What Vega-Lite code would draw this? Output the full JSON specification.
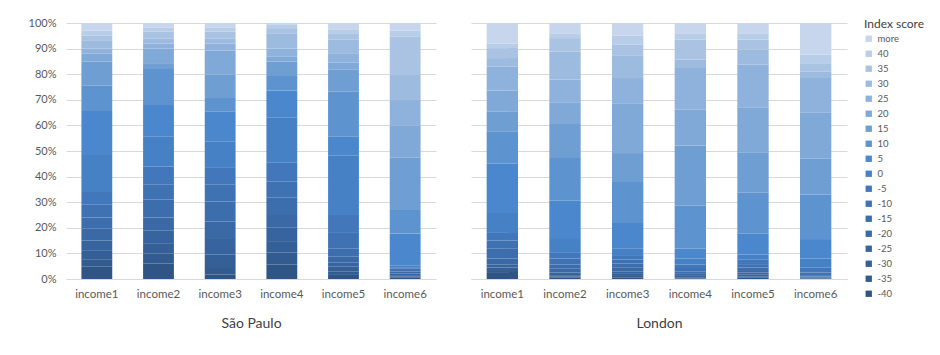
{
  "$schema": "https://vega.github.io/schema/vega-lite/v6.json",
  "padding": {"left": 28, "top": 17, "right": 5, "bottom": 5},
  "background": "white",
  "datasets": {
    "scores": [
      {"city":"São Paulo","income":"income1","score":"-40","rank":0,"pct":4.8},
      {"city":"São Paulo","income":"income1","score":"-35","rank":1,"pct":2.7},
      {"city":"São Paulo","income":"income1","score":"-30","rank":2,"pct":3.5},
      {"city":"São Paulo","income":"income1","score":"-25","rank":3,"pct":4},
      {"city":"São Paulo","income":"income1","score":"-20","rank":4,"pct":4.7},
      {"city":"São Paulo","income":"income1","score":"-15","rank":5,"pct":4.3},
      {"city":"São Paulo","income":"income1","score":"-10","rank":6,"pct":5},
      {"city":"São Paulo","income":"income1","score":"-5","rank":7,"pct":5},
      {"city":"São Paulo","income":"income1","score":"0","rank":8,"pct":14.4},
      {"city":"São Paulo","income":"income1","score":"5","rank":9,"pct":17.2},
      {"city":"São Paulo","income":"income1","score":"10","rank":10,"pct":9.9},
      {"city":"São Paulo","income":"income1","score":"15","rank":11,"pct":9.5},
      {"city":"São Paulo","income":"income1","score":"20","rank":12,"pct":3},
      {"city":"São Paulo","income":"income1","score":"25","rank":13,"pct":2},
      {"city":"São Paulo","income":"income1","score":"30","rank":14,"pct":3},
      {"city":"São Paulo","income":"income1","score":"35","rank":15,"pct":2},
      {"city":"São Paulo","income":"income1","score":"40","rank":16,"pct":2},
      {"city":"São Paulo","income":"income1","score":"more","rank":17,"pct":3},

      {"city":"São Paulo","income":"income2","score":"-40","rank":0,"pct":6},
      {"city":"São Paulo","income":"income2","score":"-35","rank":1,"pct":4},
      {"city":"São Paulo","income":"income2","score":"-30","rank":2,"pct":4},
      {"city":"São Paulo","income":"income2","score":"-25","rank":3,"pct":5},
      {"city":"São Paulo","income":"income2","score":"-20","rank":4,"pct":5},
      {"city":"São Paulo","income":"income2","score":"-15","rank":5,"pct":7},
      {"city":"São Paulo","income":"income2","score":"-10","rank":6,"pct":6},
      {"city":"São Paulo","income":"income2","score":"-5","rank":7,"pct":7},
      {"city":"São Paulo","income":"income2","score":"0","rank":8,"pct":11.6},
      {"city":"São Paulo","income":"income2","score":"5","rank":9,"pct":12.4},
      {"city":"São Paulo","income":"income2","score":"10","rank":10,"pct":14},
      {"city":"São Paulo","income":"income2","score":"15","rank":11,"pct":2},
      {"city":"São Paulo","income":"income2","score":"20","rank":12,"pct":6},
      {"city":"São Paulo","income":"income2","score":"25","rank":13,"pct":2},
      {"city":"São Paulo","income":"income2","score":"30","rank":14,"pct":2},
      {"city":"São Paulo","income":"income2","score":"35","rank":15,"pct":2.6},
      {"city":"São Paulo","income":"income2","score":"40","rank":16,"pct":1.7},
      {"city":"São Paulo","income":"income2","score":"more","rank":17,"pct":1.7},

      {"city":"São Paulo","income":"income3","score":"-40","rank":0,"pct":1.7},
      {"city":"São Paulo","income":"income3","score":"-35","rank":1,"pct":2.6},
      {"city":"São Paulo","income":"income3","score":"-30","rank":2,"pct":5.2},
      {"city":"São Paulo","income":"income3","score":"-25","rank":3,"pct":6.5},
      {"city":"São Paulo","income":"income3","score":"-20","rank":4,"pct":6.5},
      {"city":"São Paulo","income":"income3","score":"-15","rank":5,"pct":7.8},
      {"city":"São Paulo","income":"income3","score":"-10","rank":6,"pct":6.7},
      {"city":"São Paulo","income":"income3","score":"-5","rank":7,"pct":6.4},
      {"city":"São Paulo","income":"income3","score":"0","rank":8,"pct":10.4},
      {"city":"São Paulo","income":"income3","score":"5","rank":9,"pct":11.7},
      {"city":"São Paulo","income":"income3","score":"10","rank":10,"pct":5.2},
      {"city":"São Paulo","income":"income3","score":"15","rank":11,"pct":9.1},
      {"city":"São Paulo","income":"income3","score":"20","rank":12,"pct":9.4},
      {"city":"São Paulo","income":"income3","score":"25","rank":13,"pct":2.8},
      {"city":"São Paulo","income":"income3","score":"30","rank":14,"pct":2},
      {"city":"São Paulo","income":"income3","score":"35","rank":15,"pct":2.6},
      {"city":"São Paulo","income":"income3","score":"40","rank":16,"pct":1.7},
      {"city":"São Paulo","income":"income3","score":"more","rank":17,"pct":1.7},

      {"city":"São Paulo","income":"income4","score":"-40","rank":0,"pct":5.7},
      {"city":"São Paulo","income":"income4","score":"-35","rank":1,"pct":4.7},
      {"city":"São Paulo","income":"income4","score":"-30","rank":2,"pct":4.4},
      {"city":"São Paulo","income":"income4","score":"-25","rank":3,"pct":5.2},
      {"city":"São Paulo","income":"income4","score":"-20","rank":4,"pct":5},
      {"city":"São Paulo","income":"income4","score":"-15","rank":5,"pct":6.9},
      {"city":"São Paulo","income":"income4","score":"-10","rank":6,"pct":6.1},
      {"city":"São Paulo","income":"income4","score":"-5","rank":7,"pct":7.6},
      {"city":"São Paulo","income":"income4","score":"0","rank":8,"pct":17.6},
      {"city":"São Paulo","income":"income4","score":"5","rank":9,"pct":10.4},
      {"city":"São Paulo","income":"income4","score":"10","rank":10,"pct":5.7},
      {"city":"São Paulo","income":"income4","score":"15","rank":11,"pct":5.6},
      {"city":"São Paulo","income":"income4","score":"20","rank":12,"pct":1.9},
      {"city":"São Paulo","income":"income4","score":"25","rank":13,"pct":3.2},
      {"city":"São Paulo","income":"income4","score":"30","rank":14,"pct":6},
      {"city":"São Paulo","income":"income4","score":"35","rank":15,"pct":2},
      {"city":"São Paulo","income":"income4","score":"40","rank":16,"pct":1.5},
      {"city":"São Paulo","income":"income4","score":"more","rank":17,"pct":0.5},

      {"city":"São Paulo","income":"income5","score":"-40","rank":0,"pct":1.6},
      {"city":"São Paulo","income":"income5","score":"-35","rank":1,"pct":1.4},
      {"city":"São Paulo","income":"income5","score":"-30","rank":2,"pct":1.8},
      {"city":"São Paulo","income":"income5","score":"-25","rank":3,"pct":1.7},
      {"city":"São Paulo","income":"income5","score":"-20","rank":4,"pct":2.2},
      {"city":"São Paulo","income":"income5","score":"-15","rank":5,"pct":3.3},
      {"city":"São Paulo","income":"income5","score":"-10","rank":6,"pct":6},
      {"city":"São Paulo","income":"income5","score":"-5","rank":7,"pct":7},
      {"city":"São Paulo","income":"income5","score":"0","rank":8,"pct":23.2},
      {"city":"São Paulo","income":"income5","score":"5","rank":9,"pct":7.4},
      {"city":"São Paulo","income":"income5","score":"10","rank":10,"pct":17.6},
      {"city":"São Paulo","income":"income5","score":"15","rank":11,"pct":8.7},
      {"city":"São Paulo","income":"income5","score":"20","rank":12,"pct":2.7},
      {"city":"São Paulo","income":"income5","score":"25","rank":13,"pct":3.6},
      {"city":"São Paulo","income":"income5","score":"30","rank":14,"pct":5.4},
      {"city":"São Paulo","income":"income5","score":"35","rank":15,"pct":2.4},
      {"city":"São Paulo","income":"income5","score":"40","rank":16,"pct":1.3},
      {"city":"São Paulo","income":"income5","score":"more","rank":17,"pct":2.7},

      {"city":"São Paulo","income":"income6","score":"-40","rank":0,"pct":0.5},
      {"city":"São Paulo","income":"income6","score":"-35","rank":1,"pct":0.5},
      {"city":"São Paulo","income":"income6","score":"-30","rank":2,"pct":0.5},
      {"city":"São Paulo","income":"income6","score":"-25","rank":3,"pct":0.7},
      {"city":"São Paulo","income":"income6","score":"-20","rank":4,"pct":0.7},
      {"city":"São Paulo","income":"income6","score":"-15","rank":5,"pct":0.6},
      {"city":"São Paulo","income":"income6","score":"-10","rank":6,"pct":0.5},
      {"city":"São Paulo","income":"income6","score":"-5","rank":7,"pct":0.6},
      {"city":"São Paulo","income":"income6","score":"0","rank":8,"pct":0.6},
      {"city":"São Paulo","income":"income6","score":"5","rank":9,"pct":12.6},
      {"city":"São Paulo","income":"income6","score":"10","rank":10,"pct":9.5},
      {"city":"São Paulo","income":"income6","score":"15","rank":11,"pct":20.1},
      {"city":"São Paulo","income":"income6","score":"20","rank":12,"pct":12.4},
      {"city":"São Paulo","income":"income6","score":"25","rank":13,"pct":10.1},
      {"city":"São Paulo","income":"income6","score":"30","rank":14,"pct":9.8},
      {"city":"São Paulo","income":"income6","score":"35","rank":15,"pct":14.9},
      {"city":"São Paulo","income":"income6","score":"40","rank":16,"pct":2.4},
      {"city":"São Paulo","income":"income6","score":"more","rank":17,"pct":3},

      {"city":"London","income":"income1","score":"-40","rank":0,"pct":2.7},
      {"city":"London","income":"income1","score":"-35","rank":1,"pct":0.8},
      {"city":"London","income":"income1","score":"-30","rank":2,"pct":1},
      {"city":"London","income":"income1","score":"-25","rank":3,"pct":1.1},
      {"city":"London","income":"income1","score":"-20","rank":4,"pct":2.4},
      {"city":"London","income":"income1","score":"-15","rank":5,"pct":4},
      {"city":"London","income":"income1","score":"-10","rank":6,"pct":3},
      {"city":"London","income":"income1","score":"-5","rank":7,"pct":3},
      {"city":"London","income":"income1","score":"0","rank":8,"pct":7.8},
      {"city":"London","income":"income1","score":"5","rank":9,"pct":19.2},
      {"city":"London","income":"income1","score":"10","rank":10,"pct":12.7},
      {"city":"London","income":"income1","score":"15","rank":11,"pct":7.8},
      {"city":"London","income":"income1","score":"20","rank":12,"pct":8.1},
      {"city":"London","income":"income1","score":"25","rank":13,"pct":9.4},
      {"city":"London","income":"income1","score":"30","rank":14,"pct":3.3},
      {"city":"London","income":"income1","score":"35","rank":15,"pct":3.9},
      {"city":"London","income":"income1","score":"40","rank":16,"pct":1.8},
      {"city":"London","income":"income1","score":"more","rank":17,"pct":8},

      {"city":"London","income":"income2","score":"-40","rank":0,"pct":0.5},
      {"city":"London","income":"income2","score":"-35","rank":1,"pct":0.5},
      {"city":"London","income":"income2","score":"-30","rank":2,"pct":0.5},
      {"city":"London","income":"income2","score":"-25","rank":3,"pct":1},
      {"city":"London","income":"income2","score":"-20","rank":4,"pct":1.5},
      {"city":"London","income":"income2","score":"-15","rank":5,"pct":1.6},
      {"city":"London","income":"income2","score":"-10","rank":6,"pct":2.4},
      {"city":"London","income":"income2","score":"-5","rank":7,"pct":2.2},
      {"city":"London","income":"income2","score":"0","rank":8,"pct":5.8},
      {"city":"London","income":"income2","score":"5","rank":9,"pct":14.6},
      {"city":"London","income":"income2","score":"10","rank":10,"pct":16.7},
      {"city":"London","income":"income2","score":"15","rank":11,"pct":13.2},
      {"city":"London","income":"income2","score":"20","rank":12,"pct":8.3},
      {"city":"London","income":"income2","score":"25","rank":13,"pct":9.1},
      {"city":"London","income":"income2","score":"30","rank":14,"pct":11},
      {"city":"London","income":"income2","score":"35","rank":15,"pct":5.2},
      {"city":"London","income":"income2","score":"40","rank":16,"pct":1.9},
      {"city":"London","income":"income2","score":"more","rank":17,"pct":4},

      {"city":"London","income":"income3","score":"-40","rank":0,"pct":0.5},
      {"city":"London","income":"income3","score":"-35","rank":1,"pct":0.7},
      {"city":"London","income":"income3","score":"-30","rank":2,"pct":0.8},
      {"city":"London","income":"income3","score":"-25","rank":3,"pct":1},
      {"city":"London","income":"income3","score":"-20","rank":4,"pct":1.6},
      {"city":"London","income":"income3","score":"-15","rank":5,"pct":1.4},
      {"city":"London","income":"income3","score":"-10","rank":6,"pct":1.6},
      {"city":"London","income":"income3","score":"-5","rank":7,"pct":1.4},
      {"city":"London","income":"income3","score":"0","rank":8,"pct":3},
      {"city":"London","income":"income3","score":"5","rank":9,"pct":9.9},
      {"city":"London","income":"income3","score":"10","rank":10,"pct":16},
      {"city":"London","income":"income3","score":"15","rank":11,"pct":11.3},
      {"city":"London","income":"income3","score":"20","rank":12,"pct":19.2},
      {"city":"London","income":"income3","score":"25","rank":13,"pct":10.1},
      {"city":"London","income":"income3","score":"30","rank":14,"pct":8.9},
      {"city":"London","income":"income3","score":"35","rank":15,"pct":4.1},
      {"city":"London","income":"income3","score":"40","rank":16,"pct":3.5},
      {"city":"London","income":"income3","score":"more","rank":17,"pct":5},

      {"city":"London","income":"income4","score":"-40","rank":0,"pct":0.2},
      {"city":"London","income":"income4","score":"-35","rank":1,"pct":0.2},
      {"city":"London","income":"income4","score":"-30","rank":2,"pct":0.3},
      {"city":"London","income":"income4","score":"-25","rank":3,"pct":0.5},
      {"city":"London","income":"income4","score":"-20","rank":4,"pct":0.8},
      {"city":"London","income":"income4","score":"-15","rank":5,"pct":1},
      {"city":"London","income":"income4","score":"-10","rank":6,"pct":1.3},
      {"city":"London","income":"income4","score":"-5","rank":7,"pct":1.3},
      {"city":"London","income":"income4","score":"0","rank":8,"pct":2.4},
      {"city":"London","income":"income4","score":"5","rank":9,"pct":3.8},
      {"city":"London","income":"income4","score":"10","rank":10,"pct":16.8},
      {"city":"London","income":"income4","score":"15","rank":11,"pct":23.5},
      {"city":"London","income":"income4","score":"20","rank":12,"pct":14},
      {"city":"London","income":"income4","score":"25","rank":13,"pct":16.3},
      {"city":"London","income":"income4","score":"30","rank":14,"pct":3.3},
      {"city":"London","income":"income4","score":"35","rank":15,"pct":7.8},
      {"city":"London","income":"income4","score":"40","rank":16,"pct":2.5},
      {"city":"London","income":"income4","score":"more","rank":17,"pct":4},

      {"city":"London","income":"income5","score":"-40","rank":0,"pct":0.5},
      {"city":"London","income":"income5","score":"-35","rank":1,"pct":0.5},
      {"city":"London","income":"income5","score":"-30","rank":2,"pct":0.7},
      {"city":"London","income":"income5","score":"-25","rank":3,"pct":0.8},
      {"city":"London","income":"income5","score":"-20","rank":4,"pct":1},
      {"city":"London","income":"income5","score":"-15","rank":5,"pct":1},
      {"city":"London","income":"income5","score":"-10","rank":6,"pct":1},
      {"city":"London","income":"income5","score":"-5","rank":7,"pct":2},
      {"city":"London","income":"income5","score":"0","rank":8,"pct":2.1},
      {"city":"London","income":"income5","score":"5","rank":9,"pct":8.1},
      {"city":"London","income":"income5","score":"10","rank":10,"pct":16},
      {"city":"London","income":"income5","score":"15","rank":11,"pct":15.8},
      {"city":"London","income":"income5","score":"20","rank":12,"pct":17.6},
      {"city":"London","income":"income5","score":"25","rank":13,"pct":16.6},
      {"city":"London","income":"income5","score":"30","rank":14,"pct":5.9},
      {"city":"London","income":"income5","score":"35","rank":15,"pct":3.9},
      {"city":"London","income":"income5","score":"40","rank":16,"pct":2.5},
      {"city":"London","income":"income5","score":"more","rank":17,"pct":4},

      {"city":"London","income":"income6","score":"-40","rank":0,"pct":0.2},
      {"city":"London","income":"income6","score":"-35","rank":1,"pct":0.2},
      {"city":"London","income":"income6","score":"-30","rank":2,"pct":0.2},
      {"city":"London","income":"income6","score":"-25","rank":3,"pct":0.2},
      {"city":"London","income":"income6","score":"-20","rank":4,"pct":0.2},
      {"city":"London","income":"income6","score":"-15","rank":5,"pct":0.5},
      {"city":"London","income":"income6","score":"-10","rank":6,"pct":1},
      {"city":"London","income":"income6","score":"-5","rank":7,"pct":1.9},
      {"city":"London","income":"income6","score":"0","rank":8,"pct":3.6},
      {"city":"London","income":"income6","score":"5","rank":9,"pct":7.6},
      {"city":"London","income":"income6","score":"10","rank":10,"pct":17.4},
      {"city":"London","income":"income6","score":"15","rank":11,"pct":14},
      {"city":"London","income":"income6","score":"20","rank":12,"pct":18.1},
      {"city":"London","income":"income6","score":"25","rank":13,"pct":13.4},
      {"city":"London","income":"income6","score":"30","rank":14,"pct":2.6},
      {"city":"London","income":"income6","score":"35","rank":15,"pct":2.9},
      {"city":"London","income":"income6","score":"40","rank":16,"pct":3.6},
      {"city":"London","income":"income6","score":"more","rank":17,"pct":12.4}
    ]
  },
  "data": {"name": "scores"},
  "spacing": 35,
  "hconcat": [
    {
      "transform": [{"filter": "datum.city === 'São Paulo'"}],
      "width": 370,
      "height": 256,
      "mark": {"type": "bar"},
      "encoding": {
        "x": {
          "field": "income", "type": "nominal",
          "scale": {"paddingInner": 0.5, "paddingOuter": 0.25},
          "axis": {"title": "São Paulo", "labelAngle": 0, "ticks": false, "domainColor": "#d9d9d9", "labelPadding": 9, "titlePadding": 17, "labelFontSize": 11.5, "titleFontSize": 14}
        },
        "y": {
          "field": "pct", "type": "quantitative", "stack": "normalize",
          "axis": {"title": null, "format": "%", "values": [0,0.1,0.2,0.3,0.4,0.5,0.6,0.7,0.8,0.9,1], "labelOverlap": false, "labelPadding": 10, "domain": false, "ticks": false, "labelFontSize": 11}
        },
        "color": {
          "field": "score", "type": "nominal",
          "scale": {
            "domain": ["more","40","35","30","25","20","15","10","5","0","-5","-10","-15","-20","-25","-30","-35","-40"],
            "range": ["#c7d6ec","#b8cde7","#abc3e3","#9dbadf","#8fb2dc","#80a9d8","#6f9ed3","#5d94d0","#4a87cc","#4681c6","#4278bb","#3f72b3","#3c6dac","#3a69a6","#37649e","#355f97","#325b8f","#2f5585"]
          },
          "legend": {"title": "Index score", "orient": "none", "legendX": 798, "legendY": -4}
        },
        "order": {"field": "rank", "type": "quantitative", "sort": "ascending"}
      }
    },
    {
      "transform": [{"filter": "datum.city === 'London'"}],
      "width": 376,
      "height": 256,
      "mark": {"type": "bar"},
      "encoding": {
        "x": {
          "field": "income", "type": "nominal",
          "scale": {"paddingInner": 0.5, "paddingOuter": 0.25},
          "axis": {"title": "London", "labelAngle": 0, "ticks": false, "domainColor": "#d9d9d9", "labelPadding": 9, "titlePadding": 17, "labelFontSize": 11.5, "titleFontSize": 14}
        },
        "y": {
          "field": "pct", "type": "quantitative", "stack": "normalize",
          "axis": {"title": null, "labels": false, "values": [0,0.1,0.2,0.3,0.4,0.5,0.6,0.7,0.8,0.9,1], "domain": false, "ticks": false}
        },
        "color": {
          "field": "score", "type": "nominal",
          "scale": {
            "domain": ["more","40","35","30","25","20","15","10","5","0","-5","-10","-15","-20","-25","-30","-35","-40"],
            "range": ["#c7d6ec","#b8cde7","#abc3e3","#9dbadf","#8fb2dc","#80a9d8","#6f9ed3","#5d94d0","#4a87cc","#4681c6","#4278bb","#3f72b3","#3c6dac","#3a69a6","#37649e","#355f97","#325b8f","#2f5585"]
          },
          "legend": {"title": "Index score", "orient": "none", "legendX": 798, "legendY": -4}
        },
        "order": {"field": "rank", "type": "quantitative", "sort": "ascending"}
      }
    }
  ],
  "resolve": {"scale": {"color": "shared"}},
  "config": {
    "font": "Lato",
    "view": {"stroke": null},
    "axis": {"gridColor": "#d9d9d9", "labelColor": "#595959", "titleColor": "#404040", "titleFontWeight": "normal", "labelFont": "Lato", "titleFont": "Lato"},
    "legend": {
      "titleFontSize": 12, "titleFontWeight": "normal", "titleColor": "#404040",
      "labelFontSize": 9.5, "labelColor": "#595959", "symbolType": "square", "symbolSize": 40, "symbolStrokeWidth": 0,
      "rowPadding": 4, "titlePadding": 3
    }
  }
}
